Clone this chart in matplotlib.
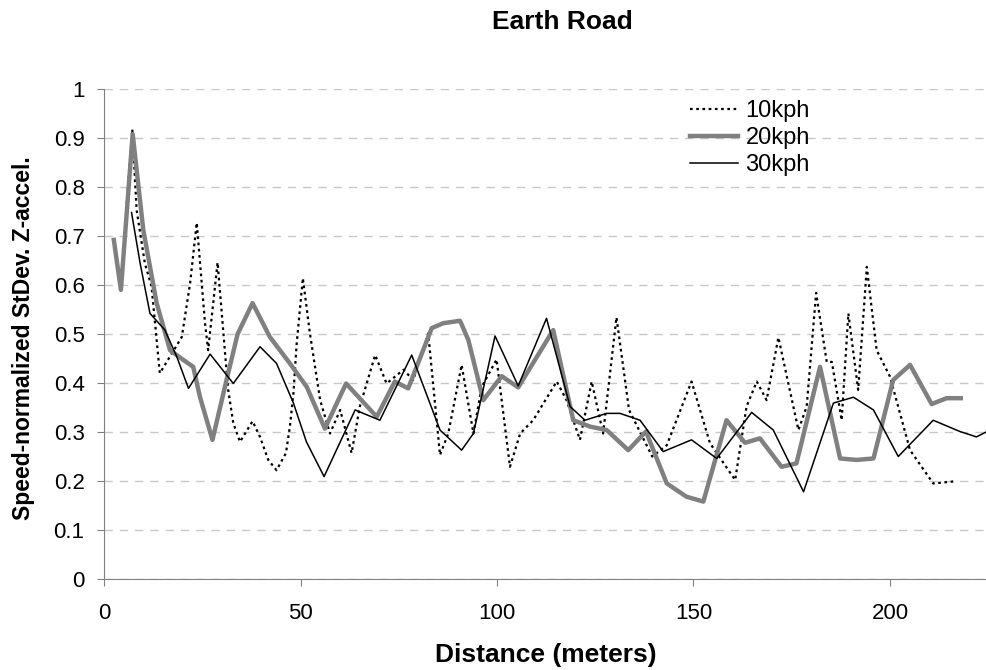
import numpy as np
import matplotlib
matplotlib.use("Agg")
import matplotlib.pyplot as plt
from matplotlib.ticker import FuncFormatter, MultipleLocator

plt.rcParams["font.family"] = ["Liberation Sans", "DejaVu Sans"]

# values (distance in m, normalized StDev)
x_10 = [5.8, 7.2, 8.3, 10.4, 12.1, 14.2, 16.8, 19.8, 21.9, 23.6, 25.7, 26.5,
        28.9, 30.8, 31.6, 32.9, 34.6, 35.9, 37.8, 39.7, 41.8, 43.9, 46.3, 47.3,
        48.2, 49.0, 50.6, 52.4, 55.0, 57.5, 60.1, 63.0, 65.1, 69.0, 71.9, 76.2,
        78.7, 82.5, 85.5, 87.6, 91.0, 94.0, 96.1, 99.9, 103.3, 105.9, 109.2,
        115.2, 117.7, 121.1, 124.1, 127.0, 130.4, 133.6, 139.5, 143.2, 149.5,
        154.2, 160.6, 163.5, 166.1, 168.6, 171.6, 176.7, 178.8, 181.2, 183.9,
        185.2, 187.7, 189.4, 191.9, 194.1, 196.6, 200.0, 205.1, 211.0, 216.1]
y_10 = [0.767, 0.918, 0.753, 0.644, 0.597, 0.420, 0.454, 0.494, 0.603, 0.727,
        0.522, 0.467, 0.646, 0.461, 0.386, 0.318, 0.280, 0.297, 0.322, 0.290,
        0.243, 0.222, 0.257, 0.311, 0.379, 0.478, 0.614, 0.501, 0.365, 0.297,
        0.345, 0.257, 0.352, 0.457, 0.399, 0.427, 0.406, 0.501, 0.253, 0.297,
        0.437, 0.297, 0.392, 0.448, 0.229, 0.297, 0.324, 0.403, 0.365, 0.284,
        0.403, 0.297, 0.534, 0.345, 0.250, 0.273, 0.403, 0.277, 0.202, 0.352,
        0.403, 0.365, 0.493, 0.304, 0.352, 0.584, 0.443, 0.443, 0.324, 0.542,
        0.386, 0.637, 0.467, 0.413, 0.263, 0.195, 0.199]

x_20 = [2.5, 4.3, 7.3, 10.0, 13.4, 16.8, 20.2, 22.7, 24.4, 27.6, 31.0, 34.0,
        37.8, 42.2, 47.3, 51.6, 56.2, 61.6, 69.4, 74.0, 77.4, 83.4, 86.3, 90.6,
        92.7, 96.5, 101.2, 105.4, 114.3, 119.4, 123.7, 127.9, 133.4, 137.9,
        143.2, 148.2, 152.5, 158.4, 163.1, 166.9, 172.4, 176.2, 182.2, 187.3,
        191.5, 195.8, 200.8, 205.1, 210.6, 214.4, 218.0]
y_20 = [0.692, 0.590, 0.908, 0.712, 0.563, 0.467, 0.447, 0.433, 0.372, 0.284,
        0.400, 0.500, 0.563, 0.494, 0.440, 0.392, 0.307, 0.399, 0.331, 0.403,
        0.389, 0.512, 0.522, 0.527, 0.488, 0.365, 0.414, 0.391, 0.508, 0.324,
        0.311, 0.304, 0.263, 0.301, 0.195, 0.168, 0.158, 0.324, 0.278, 0.287,
        0.229, 0.236, 0.433, 0.246, 0.243, 0.246, 0.406, 0.437, 0.357, 0.369,
        0.369]

x_30 = [7.0, 9.2, 11.7, 15.5, 18.5, 21.5, 27.0, 32.9, 39.7, 43.9, 48.2, 51.5,
        56.0, 63.9, 70.2, 78.3, 85.5, 91.0, 94.0, 99.5, 105.4, 112.6, 118.6,
        122.4, 127.9, 131.3, 136.4, 142.3, 149.5, 155.9, 164.8, 170.3, 178.0,
        185.6, 190.7, 195.8, 202.1, 211.0, 217.8, 222.0, 224.7]
y_30 = [0.748, 0.644, 0.542, 0.508, 0.454, 0.389, 0.459, 0.399, 0.474, 0.440,
        0.359, 0.280, 0.209, 0.345, 0.324, 0.457, 0.304, 0.263, 0.297, 0.496,
        0.394, 0.532, 0.352, 0.324, 0.338, 0.338, 0.324, 0.260, 0.284, 0.246,
        0.340, 0.304, 0.178, 0.359, 0.371, 0.345, 0.250, 0.324, 0.301, 0.290,
        0.301]

x_ticks = [0, 50, 100, 150, 200]

W, H = 987, 670
fig = plt.figure(figsize=(W / 100, H / 100), dpi=100)
# axes run past the right edge, as in the cropped original
ax = fig.add_axes([104 / W, (H - 579) / H, 982.5 / W, 490 / H])

ax.plot(x_10, y_10, color="black", lw=1.6, ls=(0, (1.2, 1.6)), label="10kph",
        solid_joinstyle="round")
ax.plot(x_20, y_20, color="#808080", lw=3.2, label="20kph",
        solid_joinstyle="round")
ax.plot(x_30, y_30, color="black", lw=1.1, label="30kph",
        solid_joinstyle="round")

ax.set_xlim(0, 250)
ax.set_ylim(0, 1)
ax.set_xticks(x_ticks)
ax.yaxis.set_major_locator(MultipleLocator(0.1))
ax.yaxis.set_major_formatter(FuncFormatter(lambda v, p: f"{v:g}"))
ax.yaxis.grid(True, color="#c8c8c8", ls=(0, (6, 5)), lw=1)
ax.set_axisbelow(True)
for s in ["top", "right"]:
    ax.spines[s].set_visible(False)
for s in ["left", "bottom"]:
    ax.spines[s].set_color("#808080")
ax.tick_params(axis="both", direction="out", length=5, color="#808080",
               labelsize=16)
ax.tick_params(axis="y", pad=9)
ax.tick_params(axis="x", pad=12)

leg = ax.legend(loc="upper left", bbox_to_anchor=(690 / W, 1 - 100 / H),
                bbox_transform=fig.transFigure, frameon=False, fontsize=17,
                handlelength=2.05, handletextpad=0.3, labelspacing=0.22,
                borderpad=0, borderaxespad=0)

fig.text(562 / W, 1 - 29 / H, "Earth Road", ha="center", va="baseline",
         fontsize=19, fontweight="bold")
fig.text(546 / W, 8 / H, "Distance (meters)", ha="center",
         va="baseline", fontsize=19, fontweight="bold")
fig.text(24 / W, 1 - 338 / H, "Speed-normalized StDev. Z-accel.",
         ha="center", va="center", rotation=90, fontsize=16.5,
         fontweight="bold")

fig.savefig("out.png", dpi=100)
